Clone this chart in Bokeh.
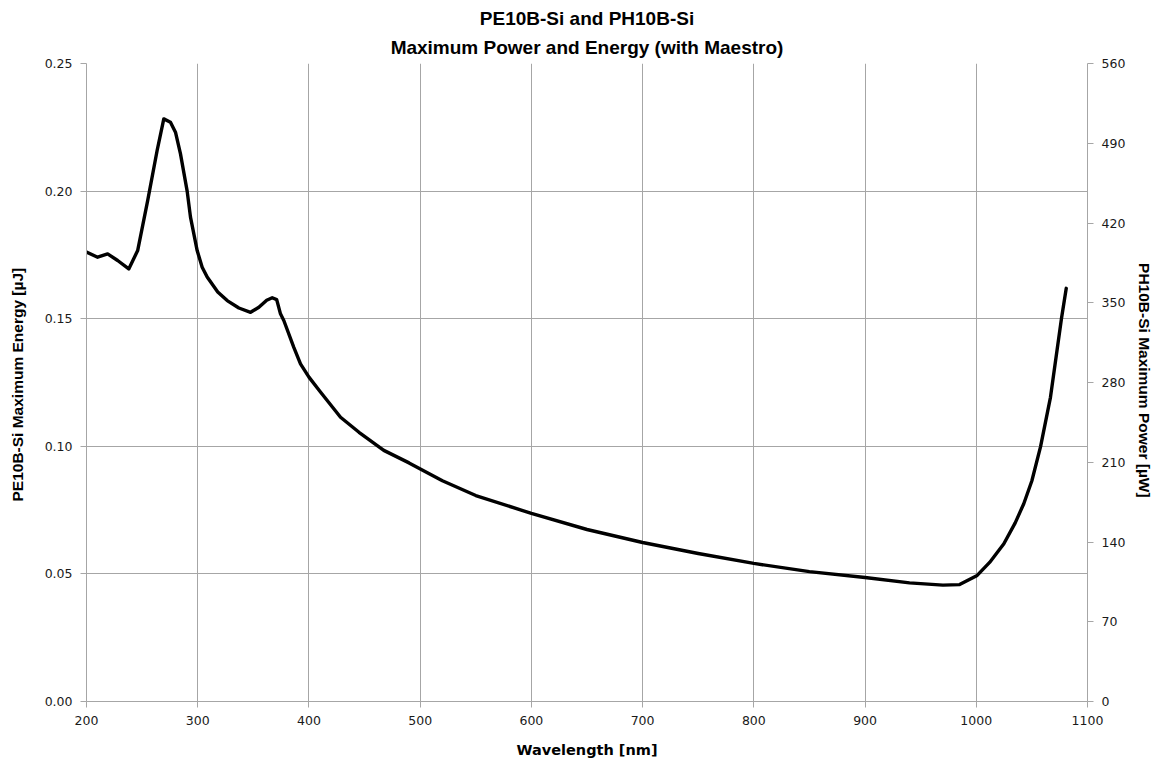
from bokeh.plotting import figure
from bokeh.models import Range1d, LinearAxis, FixedTicker, NumeralTickFormatter, Title
from bokeh.embed import file_html
from bokeh.resources import INLINE

# Wavelength [nm]
wavelength = [200, 210, 219, 228, 238, 246, 255, 263.5, 269.5, 275.5, 280, 284.5, 290.5,
              293.5, 299.5, 304, 308.5, 318, 326.5, 337, 347.5, 355, 362, 367, 371,
              374.4, 377.4, 386.4, 392.4, 400, 410, 428.4, 445, 467.3, 490, 520, 550,
              600, 650, 700, 750, 800, 850, 900, 940, 970, 985, 1000.8, 1012, 1024.8,
              1035, 1042.7, 1050, 1057.8, 1066.7, 1076.6, 1080.9]
# PE10B-Si maximum energy [uJ]
energy = [0.1761, 0.1741, 0.1754, 0.1728, 0.1695, 0.1767, 0.1963, 0.2159, 0.2283, 0.2270,
          0.2231, 0.2146, 0.2000, 0.1898, 0.1767, 0.1702, 0.1663, 0.1605, 0.1571, 0.1542,
          0.1525, 0.1545, 0.1572, 0.1582, 0.1575, 0.1519, 0.1493, 0.1388, 0.1323, 0.1271,
          0.1215, 0.1114, 0.1055, 0.0984, 0.0935, 0.0865, 0.0807, 0.0737, 0.0674, 0.0623,
          0.0580, 0.0541, 0.0509, 0.0486, 0.0465, 0.0456, 0.0458, 0.0494, 0.0545, 0.0618,
          0.0700, 0.0775, 0.0865, 0.0999, 0.1192, 0.1501, 0.1619]

x_ticks = [200, 300, 400, 500, 600, 700, 800, 900, 1000, 1100]
energy_ticks = [0.0, 0.05, 0.10, 0.15, 0.20, 0.25]
power_ticks = [0, 70, 140, 210, 280, 350, 420, 490, 560]

title_lines = ["PE10B-Si and PH10B-Si", "Maximum Power and Energy (with Maestro)"]

TICK_FONT = "DejaVu Sans"
GRID = "#a6a6a6"

p = figure(width=1150, height=760, output_backend="svg", toolbar_location=None,
           x_range=Range1d(200, 1100), y_range=Range1d(0, 0.25),
           frame_width=1001, frame_height=638,
           min_border_left=86, min_border_right=63, min_border_top=63, min_border_bottom=59)
p.outline_line_color = None
p.background_fill_color = "white"
p.border_fill_color = "white"

p.title.text = title_lines[0]
p.title.align = "center"
p.title.text_font = "Liberation Sans"
p.title.text_font_size = "19px"
p.title.text_font_style = "bold"
p.title.text_color = "black"
p.title.standoff = 0
p.add_layout(Title(text=title_lines[1], align="center",
                   text_font="Liberation Sans", text_font_size="19px",
                   text_font_style="bold", text_color="black", standoff=12), "above")

p.extra_y_ranges = {"power": Range1d(0, 560)}

for ax in (p.xaxis[0], p.yaxis[0]):
    ax.axis_line_color = GRID
    ax.major_tick_line_color = GRID
    ax.minor_tick_line_color = None
    ax.major_tick_in = 0
    ax.major_tick_out = 6
    ax.major_label_text_font = TICK_FONT
    ax.major_label_text_font_size = "12.5px"
    ax.major_label_text_color = "#1a1a1a"
    ax.axis_label_text_font = "DejaVu Sans"
    ax.axis_label_text_font_style = "bold"
    ax.axis_label_text_font_size = "14.5px"
    ax.axis_label_text_color = "black"

p.xaxis.ticker = FixedTicker(ticks=x_ticks)
p.xaxis.axis_label = "Wavelength [nm]"
p.xaxis.major_label_standoff = 8
p.xaxis.axis_label_standoff = 14

p.yaxis.ticker = FixedTicker(ticks=energy_ticks)
p.yaxis.formatter = NumeralTickFormatter(format="0.00")
p.yaxis.axis_label = "PE10B-Si  Maximum Energy [µJ]"
p.yaxis.axis_label_text_font = "Liberation Sans"
p.yaxis.axis_label_text_font_size = "15.5px"
p.yaxis.major_label_standoff = 8
p.yaxis.axis_label_standoff = 16

right = LinearAxis(y_range_name="power", ticker=FixedTicker(ticks=power_ticks),
                   axis_label="PH10B-Si  Maximum Power [µW]")
right.axis_line_color = GRID
right.major_tick_line_color = GRID
right.minor_tick_line_color = None
right.major_tick_in = 0
right.major_tick_out = 6
right.major_label_text_font = TICK_FONT
right.major_label_text_font_size = "12.5px"
right.major_label_text_color = "#1a1a1a"
right.major_label_standoff = 8
right.axis_label_text_font = "Liberation Sans"
right.axis_label_text_font_style = "bold"
right.axis_label_text_font_size = "15.5px"
right.axis_label_text_color = "black"
right.axis_label_standoff = 8
p.add_layout(right, "right")

p.xgrid.ticker = FixedTicker(ticks=x_ticks)
p.ygrid.ticker = FixedTicker(ticks=energy_ticks)
p.grid.grid_line_color = GRID
p.grid.grid_line_width = 1

p.line(wavelength, energy, line_color="black", line_width=3.4, line_join="round", line_cap="round")

open("out.html", "w").write(file_html(p, INLINE))
